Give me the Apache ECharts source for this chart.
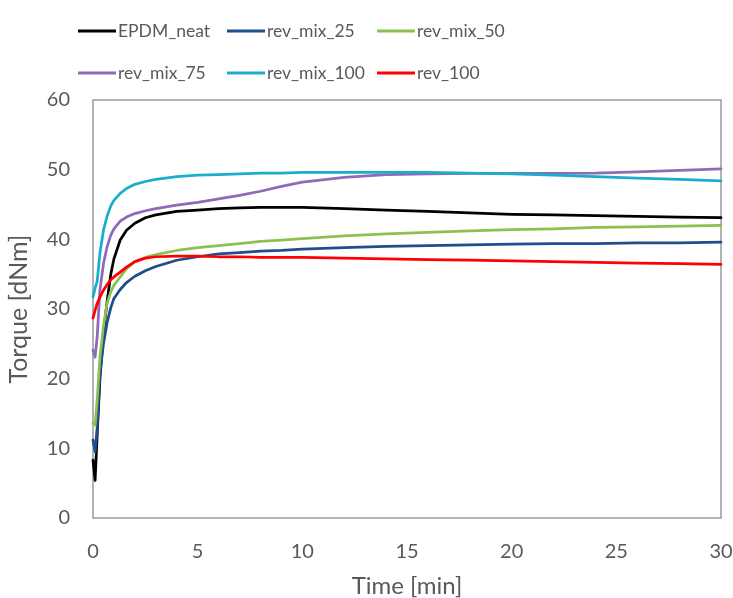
<!DOCTYPE html>
<html>
<head>
<meta charset="utf-8">
<script src="https://cdn.jsdelivr.net/npm/echarts@6/dist/echarts.min.js"></script>
<style>html,body{margin:0;padding:0;background:#fff;}#c{width:733px;height:598px;}</style>
</head>
<body>
<div id="c"></div>
<script>
const time = [0, 0.1, 0.2, 0.33, 0.5, 0.67, 0.85, 1.0, 1.3, 1.6, 2.0, 2.5, 3, 4, 5, 6, 7, 8, 9, 10, 12, 14, 16, 18, 20, 22, 24, 26, 28, 30];
const seriesNames = ['EPDM_neat', 'rev_mix_25', 'rev_mix_50', 'rev_mix_75', 'rev_mix_100', 'rev_100'];
const epdmNeat = [8.3, 5.4, 12, 20, 26.5, 31, 35, 37.2, 39.9, 41.3, 42.3, 43.1, 43.5, 44.0, 44.2, 44.4, 44.5, 44.6, 44.6, 44.6, 44.4, 44.2, 44.0, 43.8, 43.6, 43.5, 43.4, 43.3, 43.2, 43.1];
const revMix25 = [11.2, 9.5, 13, 20.8, 25, 28, 30.2, 31.5, 32.8, 33.8, 34.7, 35.5, 36.1, 37.0, 37.5, 37.9, 38.1, 38.3, 38.4, 38.6, 38.8, 39.0, 39.1, 39.2, 39.3, 39.4, 39.4, 39.5, 39.5, 39.6];
const revMix50 = [13.6, 13.3, 17, 23.1, 27.5, 30.8, 32.5, 33.4, 34.6, 35.8, 36.8, 37.4, 37.8, 38.4, 38.8, 39.1, 39.4, 39.7, 39.9, 40.1, 40.5, 40.8, 41.0, 41.2, 41.4, 41.5, 41.7, 41.8, 41.9, 42.0];
const revMix75 = [24.1, 23.1, 26, 32.7, 36.5, 38.9, 40.6, 41.5, 42.6, 43.2, 43.7, 44.1, 44.4, 44.9, 45.3, 45.8, 46.3, 46.9, 47.6, 48.2, 48.9, 49.3, 49.4, 49.45, 49.45, 49.45, 49.5, 49.7, 49.9, 50.1];
const revMix100 = [31.7, 33, 34, 38, 41.3, 43.3, 44.8, 45.6, 46.6, 47.3, 47.9, 48.3, 48.6, 49.0, 49.2, 49.3, 49.4, 49.5, 49.5, 49.6, 49.6, 49.6, 49.6, 49.5, 49.4, 49.2, 49.0, 48.8, 48.6, 48.4];
const rev100 = [28.7, 29.8, 30.8, 31.7, 32.7, 33.5, 34.2, 34.6, 35.3, 36.0, 36.8, 37.3, 37.5, 37.6, 37.6, 37.5, 37.5, 37.4, 37.4, 37.4, 37.3, 37.2, 37.1, 37.0, 36.9, 36.8, 36.7, 36.6, 36.5, 36.4];
const xTicks = [0, 5, 10, 15, 20, 25, 30];
const yTicks = [0, 10, 20, 30, 40, 50, 60];

const values = [epdmNeat, revMix25, revMix50, revMix75, revMix100, rev100];
const colors = ['#000000', '#1F4E8C', '#8CC152', '#8E6BB7', '#1AAECB', '#FF0000'];
const FONT = 'Lato';
const grey = '#595959';

const legendPos = [[78, 22], [227, 22], [377, 22], [78, 64], [227, 64], [377, 64]];
const legends = seriesNames.map((n, i) => ({
  data: [n], left: legendPos[i][0], top: legendPos[i][1], padding: 0,
  itemWidth: 38, itemHeight: 3, itemGap: 0,
  icon: 'rect',
  textStyle: { fontFamily: FONT, fontSize: 17.5, color: grey, padding: [0, 0, 0, -3] }
}));

const chart = echarts.init(document.getElementById('c'), null, { renderer: 'canvas' });
chart.setOption({
  animation: false,
  backgroundColor: '#fff',
  legend: legends,
  grid: { left: 93, right: 12, top: 100, bottom: 80, show: true, borderColor: '#9a9a9a', borderWidth: 1.5, containLabel: false, outerBoundsMode: 'none' },
  xAxis: {
    type: 'value', min: xTicks[0], max: xTicks[xTicks.length - 1], interval: 5,
    name: 'Time [min]', nameLocation: 'middle', nameGap: 56,
    nameTextStyle: { fontFamily: FONT, fontSize: 24, color: grey },
    axisLine: { show: false }, axisTick: { show: false }, splitLine: { show: false },
    axisLabel: { fontFamily: FONT, fontSize: 20, color: grey, margin: 24 }
  },
  yAxis: {
    type: 'value', min: yTicks[0], max: yTicks[yTicks.length - 1], interval: 10,
    name: 'Torque [dNm]', nameLocation: 'middle', nameGap: 62,
    nameTextStyle: { fontFamily: FONT, fontSize: 25, color: grey },
    axisLine: { show: false }, axisTick: { show: false }, splitLine: { show: false },
    axisLabel: { fontFamily: FONT, fontSize: 20, color: grey, margin: 23 }
  },
  series: seriesNames.map((n, i) => ({
    name: n, type: 'line', showSymbol: false, symbol: 'none',
    smooth: false,
    lineStyle: { width: 2.75, color: colors[i], join: 'round', cap: 'round' },
    itemStyle: { color: colors[i] },
    data: time.map((t, k) => [t, values[i][k]])
  }))
});
</script>
</body>
</html>
